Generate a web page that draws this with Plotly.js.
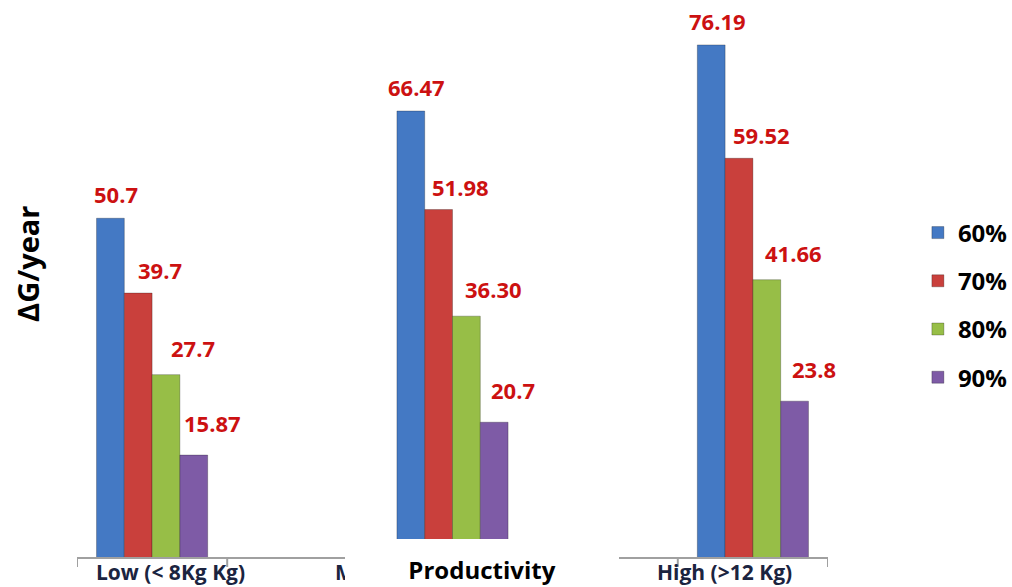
<!DOCTYPE html>
<html>
<head>
<meta charset="utf-8">
<script src="https://cdn.plot.ly/plotly-3.0.1.min.js"></script>
<style>html,body{margin:0;padding:0;background:#fff;}#chart{width:1012px;height:587px;}</style>
</head>
<body>
<div id="chart"></div>
<script>
// ---- data ----
const categories = ['Low (< 8Kg Kg)', 'Medium (8-12 Kg)', 'High (>12 Kg)'];
const seriesNames = ['60%', '70%', '80%', '90%'];
const values60 = [50.7, 66.47, 76.19];
const values70 = [39.7, 51.98, 59.52];
const values80 = [27.7, 36.30, 41.66];
const values90 = [15.87, 20.7, 23.8];
const labels60 = ['50.7', '66.47', '76.19'];
const labels70 = ['39.7', '51.98', '59.52'];
const labels80 = ['27.7', '36.30', '41.66'];
const labels90 = ['15.87', '20.7', '23.8'];
const xTitle = 'Productivity';
const yTitle = 'ΔG/year';

// ---- styling ----
const seriesValues = [values60, values70, values80, values90];
const seriesLabels = [labels60, labels70, labels80, labels90];
const colors = ['#4479c4', '#c9403c', '#97be47', '#7e5ba6'];
const labelXShift = [6, 22, 27, 19];
const labelYShift = [24, 23, 27, 32];
const catShift = [18, -120, -28];
const catAnchor = ['center', 'left', 'center'];
const bargap = 0.63;
const groupWidth = 1 - bargap;
const barW = groupWidth / seriesNames.length;
const FONT = 'Open Sans, Liberation Sans, sans-serif';

const traces = seriesNames.map((name, i) => ({
  type: 'bar',
  name: name,
  legendgroup: name,
  x: categories,
  y: seriesValues[i],
  marker: { color: colors[i], line: { color: 'rgba(0,0,0,0.25)', width: 1 } },
  hoverinfo: 'skip'
}));

const annotations = [];
seriesNames.forEach((name, i) => {
  seriesValues[i].forEach((v, j) => {
    annotations.push({
      xref: 'x', yref: 'y',
      x: j - groupWidth / 2 + barW * (i + 0.5),
      y: v,
      text: seriesLabels[i][j],
      showarrow: false,
      xanchor: 'center', yanchor: 'middle',
      xshift: labelXShift[i], yshift: labelYShift[i],
      font: { family: FONT, size: 22, color: '#cc1111', weight: 'bold' }
    });
  });
});
categories.forEach((c, j) => {
  annotations.push({
    xref: 'x', yref: 'paper',
    x: j, y: -0.0272,
    text: c, showarrow: false,
    xanchor: catAnchor[j], yanchor: 'middle',
    xshift: catShift[j],
    font: { family: FONT, size: 21, color: '#1b2440', weight: 'bold' }
  });
});
// axis title box (covers the middle of the axis)
annotations.push({
  xref: 'paper', yref: 'paper',
  x: 0.5393, y: -0.0226,
  xanchor: 'center', yanchor: 'middle',
  width: 274, height: 61,
  bgcolor: '#ffffff', borderpad: 0, borderwidth: 0,
  text: xTitle, showarrow: false,
  font: { family: FONT, size: 24, color: '#000000', weight: 'bold' }
});
annotations.push({
  xref: 'paper', yref: 'paper',
  x: -0.0652, y: 0.531,
  xanchor: 'center', yanchor: 'middle',
  textangle: -90,
  text: yTitle, showarrow: false,
  font: { family: FONT, size: 29, color: '#000000', weight: 'bold' }
});

const tickPositions = [-0.25, 0.25, 1.75, 2.25];
const shapes = tickPositions.map(p => ({
  type: 'line', xref: 'x', yref: 'paper',
  x0: p, x1: p, y0: 0, y1: -0.018,
  line: { color: '#a0a0a0', width: 2 }
}));

const layout = {
  width: 1012, height: 587,
  margin: { l: 77, r: 184, t: 5, b: 30 },
  paper_bgcolor: '#ffffff', plot_bgcolor: '#ffffff',
  barmode: 'group', bargap: bargap, bargroupgap: 0,
  showlegend: true,
  legend: {
    xref: 'container', yref: 'container',
    x: 0.907, xanchor: 'left', y: 0.4804, yanchor: 'middle',
    font: { family: FONT, size: 24, color: '#000000', weight: 'bold' },
    tracegroupgap: 14, traceorder: 'grouped', bgcolor: 'rgba(0,0,0,0)'
  },
  xaxis: {
    type: 'category', range: [-0.25, 2.25],
    showticklabels: false, ticks: '', showgrid: false, zeroline: false,
    showline: true, linecolor: '#a0a0a0', linewidth: 2, fixedrange: true
  },
  yaxis: {
    range: [0.88, 82.06], showticklabels: false, ticks: '',
    showgrid: false, zeroline: false, showline: false, fixedrange: true
  },
  annotations: annotations,
  shapes: shapes
};

Plotly.newPlot('chart', traces, layout, { displayModeBar: false, staticPlot: true });
</script>
</body>
</html>
